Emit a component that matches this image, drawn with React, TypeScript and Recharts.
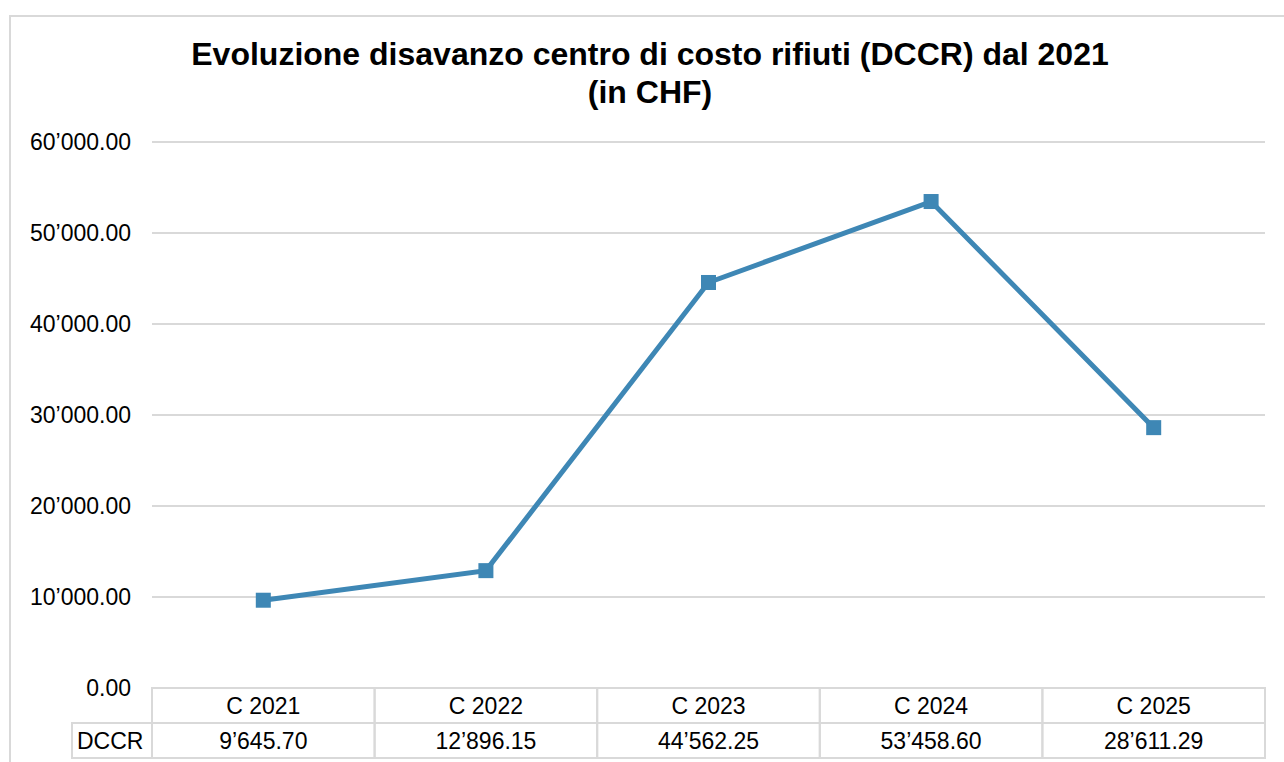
import React from 'react'
import { LineChart, Line, XAxis, YAxis, CartesianGrid } from 'recharts'

const categories = ['C 2021', 'C 2022', 'C 2023', 'C 2024', 'C 2025']
const dccrValues = [9645.7, 12896.15, 44562.25, 53458.6, 28611.29]
const yTicks = [0, 10000, 20000, 30000, 40000, 50000, 60000]
const seriesName = 'DCCR'
const titleLines = ['Evoluzione disavanzo centro di costo rifiuti (DCCR) dal 2021', '(in CHF)']

const data = categories.map((name, i) => ({ name, value: dccrValues[i] }))

const FONT = '"Liberation Sans", Arial, sans-serif'
const LINE_COLOR = '#3E87B5'
const GRID = '#d9d9d9'

const W = 1284
const H = 762
const PLOT_LEFT = 152
const PLOT_RIGHT = 1265
const PLOT_BOTTOM = 688
const COL_W = (PLOT_RIGHT - PLOT_LEFT) / categories.length
const ROW_H = 35

// 12345.6 -> 12’345.60
const fmt = (v: number) => {
  const [int, dec] = v.toFixed(2).split('.')
  return int.replace(/\B(?=(\d{3})+(?!\d))/g, '’') + '.' + dec
}

const TableTick = (props: any) => {
  const { x, index } = props
  const left = x - COL_W / 2
  const top = PLOT_BOTTOM
  const mid = top + ROW_H
  const bottom = mid + ROW_H
  return (
    <g>
      <rect x={left} y={top} width={COL_W} height={ROW_H * 2} fill="none" stroke={GRID} strokeWidth={2} />
      <line x1={left} x2={left + COL_W} y1={mid} y2={mid} stroke={GRID} strokeWidth={2} />
      <text x={x} y={top + ROW_H / 2} dy="0.355em" textAnchor="middle" fontSize={23} fontFamily={FONT} fill="#000">
        {categories[index]}
      </text>
      <text x={x} y={mid + ROW_H / 2} dy="0.355em" textAnchor="middle" fontSize={23} fontFamily={FONT} fill="#000">
        {fmt(dccrValues[index])}
      </text>
      {index === 0 && (
        <g>
          <rect x={72} y={mid} width={left - 72} height={ROW_H} fill="none" stroke={GRID} strokeWidth={2} />
          <text x={77} y={mid + ROW_H / 2} dy="0.355em" textAnchor="start" fontSize={23} fontFamily={FONT} fill="#000">
            {seriesName}
          </text>
        </g>
      )}
    </g>
  )
}

const SquareDot = (props: any) => {
  const { cx, cy } = props
  if (cx == null || cy == null) return null
  return <rect x={cx - 7.5} y={cy - 7.5} width={15} height={15} fill={LINE_COLOR} />
}

export default function App() {
  return (
    <div style={{ position: 'absolute', left: 0, top: 0, width: W, height: H, overflow: 'hidden', background: '#fff' }}>
      <div
        style={{
          position: 'absolute',
          left: 9,
          top: 15,
          width: W + 20,
          height: H + 20,
          border: `2px solid ${GRID}`,
          boxSizing: 'border-box'
        }}
      />
      <div
        style={{
          position: 'absolute',
          left: 0,
          top: 35,
          width: 1300,
          textAlign: 'center',
          fontFamily: FONT,
          fontWeight: 'bold',
          fontSize: 32,
          lineHeight: '38px',
          color: '#000'
        }}
      >
        {titleLines.map((t) => (
          <div key={t}>{t}</div>
        ))}
      </div>
      <div style={{ position: 'absolute', left: 0, top: 0 }}>
        <LineChart width={W} height={H} data={data} margin={{ top: 142, right: W - PLOT_RIGHT, bottom: 0, left: 0 }}>
          <CartesianGrid vertical={false} stroke={GRID} strokeWidth={2} />
          <XAxis
            dataKey="name"
            height={H - PLOT_BOTTOM}
            axisLine={false}
            tickLine={false}
            padding={{ left: COL_W / 2, right: COL_W / 2 }}
            tick={(p: any) => <TableTick {...p} />}
            interval={0}
          />
          <YAxis
            width={PLOT_LEFT}
            domain={[0, 60000]}
            ticks={yTicks}
            tickFormatter={fmt}
            axisLine={false}
            tickLine={false}
            tickSize={0}
            tickMargin={21}
            tick={{ fontSize: 23, fontFamily: FONT, fill: '#000' }}
          />
          <Line
            type="linear"
            dataKey="value"
            stroke={LINE_COLOR}
            strokeWidth={5}
            dot={<SquareDot />}
            activeDot={false}
            isAnimationActive={false}
          />
        </LineChart>
      </div>
    </div>
  )
}
